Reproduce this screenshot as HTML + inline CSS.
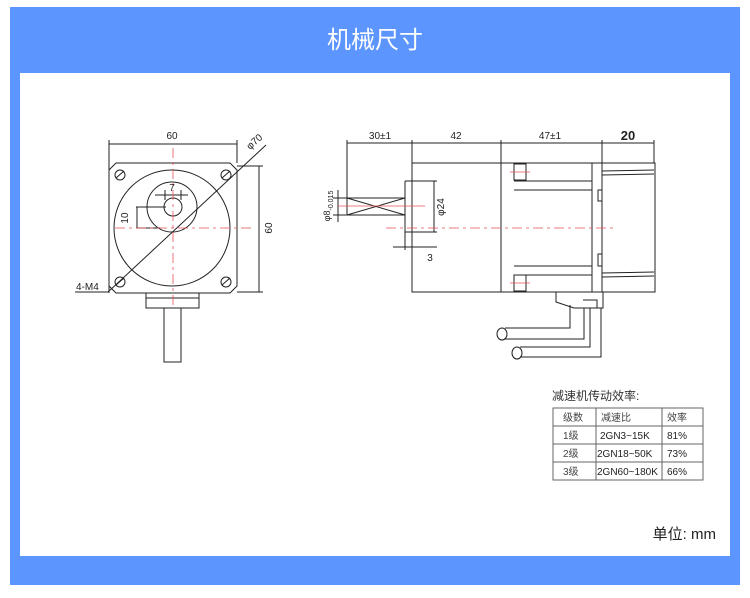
<!DOCTYPE html>
<html><head><meta charset="utf-8"><style>
body{margin:0;width:750px;height:598px;background:#fff;overflow:hidden}
svg{display:block}
text{font-family:"Liberation Sans","Noto Sans CJK SC",sans-serif}
</style></head><body>
<svg width="750" height="598" viewBox="0 0 750 598" xmlns="http://www.w3.org/2000/svg">
<rect x="10" y="7" width="730" height="578" fill="#5c95fd"/>
<rect x="20" y="73" width="710" height="483" fill="#fff"/>
<text x="375" y="48" font-size="24" fill="#fff" text-anchor="middle" font-family="Noto Sans CJK SC">机械尺寸</text>
<g stroke="#222" stroke-width="1" fill="none">
<!-- front view -->
<path d="M116 163 H230 L237 170 V286 L230 293 H116 L109 286 V170 Z"/>
<line x1="109" y1="163" x2="109" y2="293"/>
<circle cx="172" cy="228" r="58"/>
<circle cx="172" cy="207" r="25"/>
<circle cx="173" cy="207" r="9"/>
<circle cx="120" cy="175" r="5"/><circle cx="226" cy="175" r="5"/>
<circle cx="120" cy="282" r="5"/><circle cx="226" cy="282" r="5"/>
<path d="M116 178 L124 171 M222 178 L230 171 M116 285 L124 278 M222 285 L230 278"/>
<line x1="109" y1="140" x2="109" y2="163"/><line x1="237" y1="140" x2="237" y2="163"/>
<line x1="109" y1="144" x2="237" y2="144"/>
<line x1="237" y1="166" x2="263" y2="166"/><line x1="237" y1="292" x2="263" y2="292"/>
<line x1="259" y1="166" x2="259" y2="292"/>
<line x1="108" y1="292" x2="266" y2="145"/>
<line x1="75" y1="292" x2="108" y2="292"/>
<line x1="136" y1="207" x2="166" y2="207"/><line x1="136" y1="228" x2="160" y2="228"/>
<line x1="137" y1="207" x2="137" y2="228"/>
<line x1="165" y1="190" x2="165" y2="200"/><line x1="181" y1="190" x2="181" y2="200"/>
<line x1="155" y1="195" x2="188" y2="195"/>
<rect x="146" y="293" width="53" height="15"/>
<line x1="146" y1="298" x2="199" y2="298"/>
<rect x="164" y="308" width="17" height="54"/>
<!-- side view -->
<line x1="347" y1="140" x2="347" y2="198"/>
<line x1="412" y1="140" x2="412" y2="163"/>
<line x1="501" y1="140" x2="501" y2="163"/>
<line x1="602" y1="140" x2="602" y2="163"/>
<line x1="654" y1="140" x2="654" y2="163"/>
<line x1="347" y1="143" x2="654" y2="143"/>
<rect x="412" y="163" width="190" height="129"/>
<line x1="501" y1="163" x2="501" y2="292"/>
<line x1="592" y1="163" x2="592" y2="292"/>
<rect x="602" y="163" width="53" height="129"/>
<path d="M602 171 L654 170 M602 175 L654 174 M602 273 L654 272 M602 277 L654 276"/>
<rect x="514" y="164" width="12" height="16"/>
<rect x="514" y="275" width="12" height="16"/>
<path d="M514 181 H592 M514 190 H592 M514 266 H592 M514 275 H592"/>
<rect x="598" y="190" width="4" height="11"/><rect x="598" y="254" width="4" height="12"/>
<path d="M405 181 H437 M405 181 V250 M405 232 H437 M434 181 V232"/>
<rect x="347" y="198" width="58" height="17"/>
<path d="M347 198 L405 215 M347 215 L405 198"/>
<path d="M333 198 H347 M333 215 H347 M338 190 V222"/>
<path d="M393 247 H437 M412 240 V250"/>
<path d="M556 292 V302 L574 308 H603 V292 M583 300 H597 V308"/>
<path d="M570 305 V328 H505 M584 308 V339 H505 M590 308 V347 H520 M601 308 V357 H520"/>
<ellipse cx="502" cy="334" rx="5" ry="6"/><ellipse cx="517" cy="353" rx="5" ry="6"/>
<!-- table -->
<rect x="553" y="408" width="150" height="72" stroke="#666"/>
<path d="M553 426 H703 M553 444 H703 M553 462 H703 M596 408 V480 M662 408 V480" stroke="#666"/>
</g>
<g stroke="#e8505b" stroke-width="0.8" fill="none" stroke-dasharray="10 4 3 4">
<line x1="115" y1="228" x2="252" y2="228"/>
<line x1="173" y1="148" x2="173" y2="305"/>
<line x1="386" y1="228" x2="616" y2="228"/>
<line x1="338" y1="206" x2="425" y2="206" stroke-dasharray="none"/>
<line x1="510" y1="172" x2="530" y2="172" stroke-dasharray="none"/>
<line x1="510" y1="283" x2="530" y2="283" stroke-dasharray="none"/>
</g>
<g font-size="10" fill="#222">
<text x="172" y="139" text-anchor="middle">60</text>
<text x="272" y="228" text-anchor="middle" transform="rotate(-90 272 228)">60</text>
<text x="250" y="150" transform="rotate(-42 250 150)">φ70</text>
<text x="76" y="290">4-M4</text>
<text x="128" y="218" text-anchor="middle" transform="rotate(-90 128 218)">10</text>
<text x="172" y="191" text-anchor="middle">7</text>
<text x="380" y="139" text-anchor="middle">30±1</text>
<text x="456" y="139" text-anchor="middle">42</text>
<text x="550" y="139" text-anchor="middle">47±1</text>
<text x="628" y="140" text-anchor="middle" font-weight="bold" font-size="13">20</text>
<text x="444" y="207" text-anchor="middle" transform="rotate(-90 444 207)">φ24</text>
<text x="430" y="261" text-anchor="middle">3</text>
<text x="330" y="206" text-anchor="middle" transform="rotate(-90 330 206)" font-size="9">φ8<tspan font-size="7" dy="3">-0.015</tspan></text>
</g>
<g font-family="Noto Serif CJK SC" fill="#333">
<text x="552" y="400" font-size="12" font-family="Noto Serif CJK SC">减速机传动效率:</text>
<g font-size="10" fill="#444">
<text x="563" y="421" font-family="Noto Serif CJK SC">级数</text>
<text x="601" y="421" font-family="Noto Serif CJK SC">减速比</text>
<text x="667" y="421" font-family="Noto Serif CJK SC">效率</text>
<text x="563" y="439" font-family="Noto Serif CJK SC">1级</text>
<text x="563" y="457" font-family="Noto Serif CJK SC">2级</text>
<text x="563" y="475" font-family="Noto Serif CJK SC">3级</text>
</g>
</g>
<g font-size="10" fill="#222">
<text x="600" y="439">2GN3~15K</text>
<text x="597" y="457">2GN18~50K</text>
<text x="597" y="475">2GN60~180K</text>
<text x="667" y="439">81%</text>
<text x="667" y="457">73%</text>
<text x="667" y="475">66%</text>
</g>
<text x="716" y="539" font-size="15" fill="#222" text-anchor="end">单位: mm</text>
</svg>
</body></html>
